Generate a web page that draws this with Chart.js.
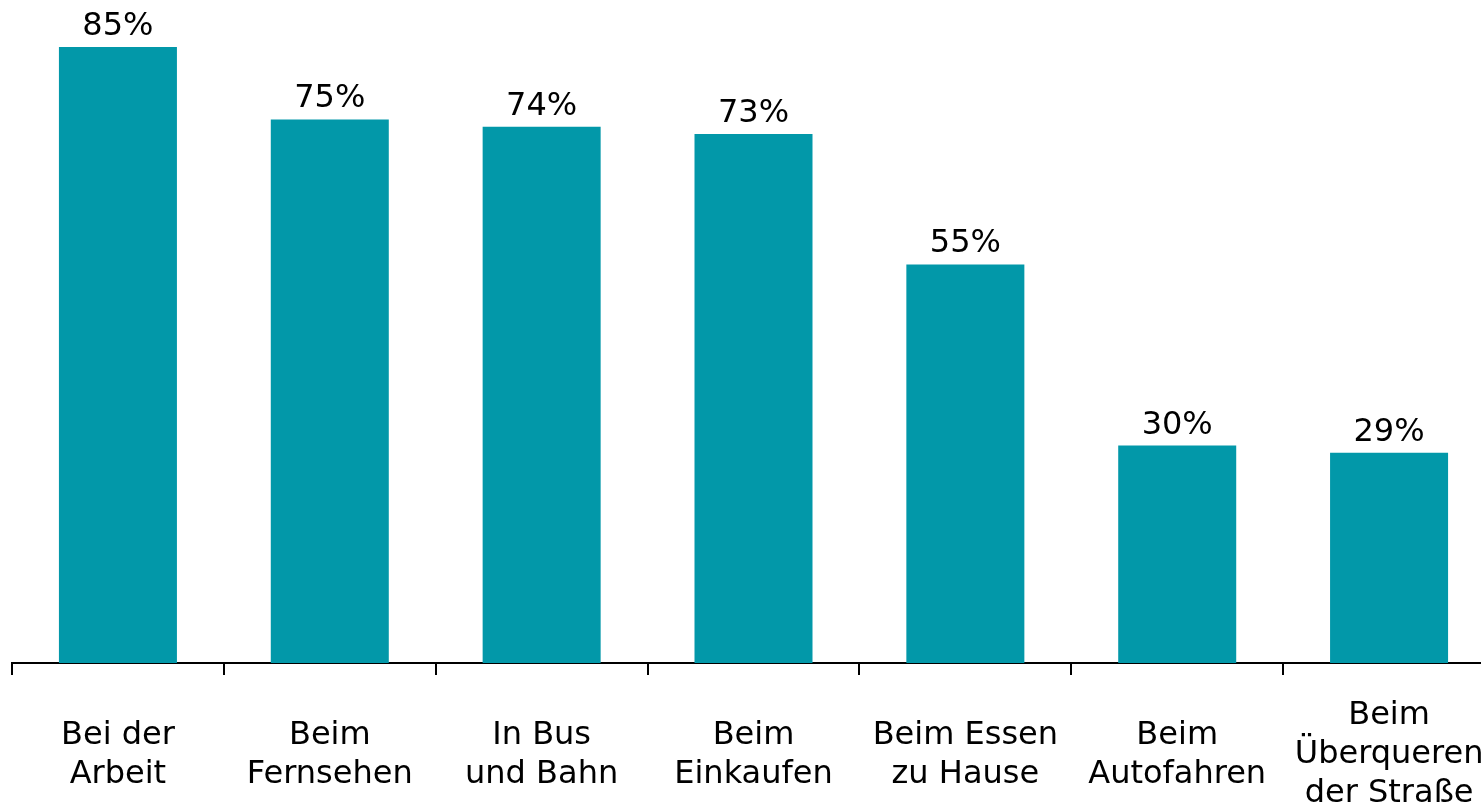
<!DOCTYPE html>
<html>
<head>
<meta charset="utf-8">
<script src="https://cdn.jsdelivr.net/npm/chart.js@4.4.0/dist/chart.umd.min.js"></script>
<style>
    html, body { margin: 0; padding: 0; background: #fff; overflow: hidden; }
    #wrap { width: 1481px; height: 803px; overflow: hidden; position: relative; }
    #chart { position: absolute; left: 0; top: 0; }
</style>
</head>
<body>
<div id="wrap"><canvas id="chart" width="1496" height="803"></canvas></div>
<script>
const categories = [
    ['Bei der', 'Arbeit'],
    ['Beim', 'Fernsehen'],
    ['In Bus', 'und Bahn'],
    ['Beim', 'Einkaufen'],
    ['Beim Essen', 'zu Hause'],
    ['Beim', 'Autofahren'],
    ['Beim', 'Überqueren', 'der Straße']
];
const shares = [85, 75, 74, 73, 55, 30, 29];

const barColor = '#0298a9';
const fontFamily = '"DejaVu Sans", Verdana, sans-serif';

// draws the "85%" style labels above each bar
const valueLabels = {
    id: 'valueLabels',
    afterDatasetsDraw(chart) {
        const ctx = chart.ctx;
        const meta = chart.getDatasetMeta(0);
        ctx.save();
        ctx.font = '32px ' + fontFamily;
        ctx.fillStyle = '#000';
        ctx.textAlign = 'center';
        ctx.textBaseline = 'alphabetic';
        meta.data.forEach((bar, i) => {
            ctx.fillText(shares[i] + '%', bar.x, bar.y - 12);
        });
        ctx.restore();
    }
};

const ctx = document.getElementById('chart').getContext('2d');
new Chart(ctx, {
    type: 'bar',
    data: {
        labels: categories,
        datasets: [{
            data: shares,
            backgroundColor: barColor,
            borderWidth: 0,
            categoryPercentage: 1,
            barPercentage: 0.557
        }]
    },
    options: {
        responsive: false,
        animation: false,
        layout: { padding: { top: 47, left: 12, right: 1, bottom: 0 } },
        plugins: {
            legend: { display: false },
            tooltip: { enabled: false }
        },
        scales: {
            x: {
                offset: true,
                border: { display: true, color: '#000', width: 2 },
                grid: {
                    offset: true,
                    drawOnChartArea: false,
                    drawTicks: true,
                    tickLength: 12,
                    color: '#000',
                    lineWidth: 2
                },
                ticks: {
                    color: '#000',
                    font: { family: fontFamily, size: 32, lineHeight: 1.22 },
                    padding: 41,
                    maxRotation: 0,
                    autoSkip: false,
                    crossAlign: 'center'
                },
                // keep the axis at a fixed height and let it run to the edges
                afterFit(scale) {
                    scale.height = 140;
                    scale.paddingLeft = 0;
                    scale.paddingRight = 0;
                }
            },
            y: {
                display: false,
                min: 0,
                max: 85
            }
        }
    },
    plugins: [valueLabels]
});
</script>
</body>
</html>
